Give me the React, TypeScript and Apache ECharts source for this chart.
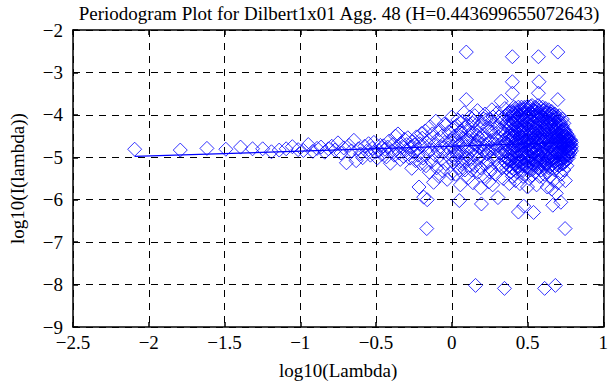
import React, { useEffect, useRef } from "react";
import * as echarts from "echarts";

const titleText = "Periodogram Plot for Dilbert1x01 Agg. 48 (H=0.443699655072643)";
const xAxisName = "log10(Lambda)";
const yAxisName = "log10(I(lambda))";

// fitted line end points
const fitLine: number[][] = [[-2.093, -4.98], [0.79, -4.65]];

// low frequencies (sparse part)
const lowFreq: number[][] = [
  [-2.093, -4.81], [-1.792, -4.83], [-1.616, -4.79], [-1.491, -4.81], [-1.394, -4.76],
  [-1.315, -4.8], [-1.248, -4.8], [-1.19, -4.87], [-1.139, -4.83], [-1.093, -4.8],
  [-1.052, -4.75], [-1.014, -4.82], [-0.979, -4.84], [-0.947, -4.7], [-0.917, -4.86],
  [-0.889, -4.79], [-0.863, -4.76], [-0.838, -4.88], [-0.814, -4.8], [-0.792, -4.74],
  [-0.771, -4.83], [-0.751, -4.66], [-0.732, -4.9], [-0.713, -4.78], [-0.695, -5.13],
  [-0.678, -4.72], [-0.662, -4.85], [-0.646, -4.6], [-0.631, -5.08], [-0.616, -4.8],
  [-0.602, -4.92], [-0.588, -5.01], [-0.575, -4.74], [-0.562, -4.86], [-0.549, -4.68],
  [-0.537, -4.95], [-0.525, -4.79], [-0.514, -4.65], [-0.503, -4.88], [-0.492, -5.02],
  [-0.481, -4.84], [-0.471, -4.72], [-0.461, -4.93], [-0.451, -4.73], [-0.441, -4.81],
  [-0.432, -4.99], [-0.423, -4.76], [-0.414, -4.62], [-0.405, -5.14], [-0.396, -4.85],
  [-0.388, -4.7], [-0.379, -4.95], [-0.371, -4.5], [-0.363, -4.8], [-0.355, -4.45],
  [-0.347, -4.9], [-0.34, -5.05], [-0.332, -4.66], [-0.325, -4.75], [-0.318, -4.98],
  [-0.311, -4.58], [-0.304, -4.84], [-0.297, -4.7], [-0.29, -4.54], [-0.283, -4.92],
  [-0.277, -5.02], [-0.27, -4.76], [-0.264, -5.26], [-0.258, -4.63], [-0.252, -4.88],
  [-0.245, -4.71], [-0.239, -5.08], [-0.233, -4.52], [-0.228, -4.82], [-0.222, -4.95],
  [-0.216, -5.7], [-0.211, -4.68], [-0.205, -5.15], [-0.2, -4.44],
];

// middle frequencies
const midFreq: number[][] = [
  [-0.195, -4.55], [-0.19, -5.02], [-0.185, -5.94], [-0.18, -4.72], [-0.175, -4.38],
  [-0.17, -5.2], [-0.165, -6.68], [-0.162, -6.0], [-0.158, -4.9], [-0.153, -4.6],
  [-0.148, -5.35], [-0.143, -4.28], [-0.138, -4.82], [-0.133, -5.1], [-0.128, -4.45],
  [-0.12, -5.59], [-0.115, -4.7], [-0.11, -4.95], [-0.105, -4.15], [-0.1, -5.25],
  [-0.095, -4.58], [-0.09, -4.85], [-0.085, -5.45], [-0.08, -4.35], [-0.075, -4.75],
  [-0.07, -5.05], [-0.065, -4.5], [-0.06, -5.32], [-0.055, -4.88], [-0.05, -4.22],
  [-0.045, -4.65], [-0.04, -5.15], [-0.036, -4.23], [-0.03, -5.52], [-0.025, -4.78],
  [-0.02, -4.4], [-0.015, -5.0], [-0.01, -4.6], [-0.005, -5.38], [0.0, -4.05],
  [0.005, -4.62], [0.01, -5.12], [0.015, -4.3], [0.02, -4.85], [0.025, -5.4],
  [0.03, -4.48], [0.035, -4.95], [0.04, -4.12], [0.045, -5.25], [0.05, -6.02],
  [0.052, -4.7], [0.057, -5.65], [0.062, -4.38], [0.067, -4.9], [0.072, -5.1],
  [0.077, -4.55], [0.082, -3.95], [0.087, -5.3], [0.092, -4.75], [0.096, -3.64],
  [0.096, -2.52], [0.1, -4.95], [0.105, -4.25], [0.11, -5.48], [0.115, -4.6],
  [0.12, -4.05], [0.125, -5.05], [0.13, -4.42], [0.135, -4.82], [0.14, -5.6],
  [0.145, -4.15], [0.15, -4.68], [0.155, -5.2], [0.157, -8.02], [0.16, -4.35],
  [0.165, -4.92], [0.17, -3.9], [0.175, -5.35], [0.18, -4.55], [0.185, -4.78],
  [0.19, -5.72], [0.196, -6.1], [0.2, -4.2], [0.205, -5.0], [0.21, -4.45],
  [0.215, -5.45], [0.22, -3.98], [0.225, -4.7], [0.23, -5.15], [0.235, -4.3],
  [0.24, -4.88], [0.245, -5.58], [0.25, -4.1], [0.255, -4.62], [0.26, -5.28],
  [0.265, -3.88], [0.27, -4.8], [0.27, -5.65], [0.275, -4.4], [0.28, -5.05],
  [0.285, -4.2], [0.29, -5.4], [0.295, -4.55], [0.3, -3.95], [0.305, -5.95],
  [0.31, -4.72], [0.315, -5.18], [0.32, -4.35], [0.326, -3.68], [0.33, -4.95],
  [0.335, -4.08], [0.34, -5.5], [0.345, -4.6], [0.348, -8.09], [0.35, -3.85],
  [0.355, -4.85], [0.36, -5.25], [0.365, -4.25], [0.37, -4.7], [0.375, -5.05],
  [0.38, -3.95], [0.38, -5.62], [0.385, -4.5], [0.39, -5.35], [0.395, -4.15],
  [0.008, -4.75], [0.018, -4.5], [0.028, -5.05], [0.038, -4.62], [0.048, -4.88],
  [0.058, -4.42], [0.068, -5.15], [0.078, -4.7], [0.088, -4.3], [0.098, -4.58],
  [0.108, -4.82], [0.118, -5.18], [0.128, -4.5], [0.138, -4.2], [0.148, -4.95],
  [0.158, -4.72], [0.168, -4.48], [0.178, -5.02], [0.188, -4.25], [0.198, -4.68],
  [0.208, -4.85], [0.218, -4.55], [0.228, -4.12], [0.238, -5.1], [0.248, -4.78],
  [0.258, -4.4], [0.268, -4.6], [0.278, -4.95], [0.288, -4.7], [0.298, -4.32],
  [0.308, -4.52], [0.318, -4.9], [0.328, -4.18], [0.338, -4.75], [0.348, -5.08],
  [0.012, -4.95], [0.032, -4.25], [0.052, -5.3], [0.072, -4.15], [0.092, -5.02],
  [0.112, -4.38], [0.132, -5.3], [0.152, -4.02], [0.172, -4.62], [0.192, -5.25],
  [0.212, -4.1], [0.232, -4.92], [0.252, -5.35], [0.272, -4.05], [0.292, -4.82],
  [0.312, -4.05], [0.332, -5.25], [0.342, -4.4],
];

// high frequencies (cloud)
const highFreq: number[][] = [
  [0.4, -2.63], [0.4, -3.22], [0.4, -3.49],
  [0.4, -4.62], [0.4, -3.92], [0.4, -5.1], [0.4, -4.35], [0.4, -5.45], [0.4, -4.8],
  [0.41, -4.2], [0.41, -4.95], [0.41, -3.82], [0.41, -5.28], [0.41, -4.5], [0.41, -4.05],
  [0.42, -4.75], [0.42, -4.02], [0.42, -5.15], [0.42, -4.4], [0.42, -3.85], [0.42, -5.55],
  [0.43, -4.3], [0.43, -4.88], [0.43, -4.58], [0.43, -5.02], [0.43, -3.95], [0.43, -5.35],
  [0.44, -4.1], [0.44, -4.7], [0.44, -5.22], [0.44, -3.82], [0.44, -4.45], [0.44, -6.29],
  [0.45, -4.85], [0.45, -4.25], [0.45, -3.9], [0.45, -5.08], [0.45, -4.55], [0.45, -5.62],
  [0.46, -4.4], [0.46, -5.3], [0.46, -4.0], [0.46, -4.72], [0.46, -3.82], [0.46, -4.95],
  [0.47, -4.65], [0.47, -4.15], [0.47, -5.12], [0.47, -4.38], [0.47, -3.88], [0.47, -5.45],
  [0.475, -6.15],
  [0.48, -4.5], [0.48, -3.95], [0.48, -4.9], [0.48, -5.2], [0.48, -4.25], [0.48, -3.82],
  [0.49, -4.78], [0.49, -4.05], [0.49, -5.38], [0.49, -4.6], [0.49, -4.3], [0.49, -5.0],
  [0.5, -4.2], [0.5, -4.95], [0.5, -3.85], [0.5, -4.48], [0.5, -5.25], [0.5, -3.8], [0.5, -5.7],
  [0.51, -4.7], [0.51, -4.35], [0.51, -5.1], [0.51, -3.98], [0.51, -5.5], [0.51, -4.55],
  [0.52, -4.12], [0.52, -4.82], [0.52, -3.8], [0.52, -5.3], [0.52, -4.45], [0.52, -4.98],
  [0.53, -4.6], [0.53, -4.0], [0.53, -5.05], [0.53, -4.28], [0.53, -3.78], [0.53, -5.42],
  [0.54, -4.4], [0.54, -4.9], [0.54, -3.9], [0.54, -5.18], [0.54, -4.65], [0.54, -6.3],
  [0.55, -4.75], [0.55, -4.15], [0.55, -3.82], [0.55, -5.0], [0.55, -4.5], [0.55, -5.35],
  [0.56, -4.3], [0.56, -5.15], [0.56, -3.85], [0.56, -4.85], [0.56, -4.05], [0.56, -4.62], [0.56, -5.65],
  [0.57, -4.55], [0.57, -3.95], [0.57, -5.25], [0.57, -4.2], [0.57, -4.95], [0.57, -3.78],
  [0.572, -2.63], [0.576, -3.22], [0.572, -3.49],
  [0.58, -4.7], [0.58, -4.1], [0.58, -5.05], [0.58, -3.82], [0.58, -4.4], [0.58, -5.45],
  [0.59, -4.25], [0.59, -4.88], [0.59, -3.92], [0.59, -5.3], [0.59, -4.58], [0.59, -4.0],
  [0.6, -4.65], [0.6, -4.12], [0.6, -5.1], [0.6, -3.82], [0.6, -4.45], [0.6, -4.92],
  [0.61, -4.35], [0.61, -5.22], [0.61, -3.88], [0.61, -4.78], [0.61, -4.08], [0.61, -5.4],
  [0.613, -8.09],
  [0.62, -4.55], [0.62, -4.0], [0.62, -4.95], [0.62, -5.15], [0.62, -4.28], [0.62, -3.85],
  [0.63, -4.8], [0.63, -4.18], [0.63, -3.95], [0.63, -5.05], [0.63, -4.48], [0.63, -5.35], [0.63, -5.7],
  [0.64, -4.38], [0.64, -4.9], [0.64, -4.05], [0.64, -5.25], [0.64, -3.88], [0.64, -4.65],
  [0.65, -4.6], [0.65, -4.22], [0.65, -5.0], [0.65, -3.98], [0.65, -5.45], [0.65, -4.75],
  [0.66, -4.45], [0.66, -4.95], [0.66, -4.1], [0.66, -5.18], [0.66, -3.92], [0.66, -4.7], [0.66, -5.75],
  [0.667, -6.13],
  [0.67, -4.7], [0.67, -4.25], [0.67, -5.08], [0.67, -4.0], [0.67, -4.52], [0.67, -5.55],
  [0.68, -4.35], [0.68, -4.85], [0.68, -4.12], [0.68, -5.3], [0.68, -4.6], [0.68, -3.98],
  [0.684, -8.02],
  [0.69, -4.58], [0.69, -4.2], [0.69, -5.0], [0.69, -4.4], [0.69, -4.9], [0.69, -5.25], [0.69, -5.85],
  [0.7, -2.52], [0.7, -3.64], [0.7, -4.3], [0.7, -4.75], [0.7, -4.05], [0.7, -5.12], [0.7, -4.55], [0.7, -5.6],
  [0.71, -4.45], [0.71, -4.88], [0.71, -4.15], [0.71, -5.2], [0.71, -4.62], [0.71, -4.02],
  [0.72, -6.06], [0.72, -4.38], [0.72, -4.95], [0.72, -4.2], [0.72, -5.05], [0.72, -4.7], [0.72, -5.4],
  [0.73, -4.55], [0.73, -4.28], [0.73, -4.85], [0.73, -5.15], [0.73, -4.42], [0.73, -4.1],
  [0.74, -4.65], [0.74, -4.35], [0.74, -5.0], [0.74, -4.5], [0.74, -5.3], [0.74, -4.2],
  [0.748, -6.68],
  [0.75, -4.48], [0.75, -4.8], [0.75, -4.62], [0.75, -5.1], [0.75, -4.38], [0.75, -5.55],
  [0.76, -4.7], [0.76, -4.45], [0.76, -4.95], [0.76, -4.58], [0.76, -5.2],
  [0.77, -4.6], [0.77, -4.85], [0.77, -4.5], [0.77, -5.02], [0.77, -4.72],
  [0.78, -4.68], [0.78, -4.9], [0.78, -4.58], [0.78, -4.8],
  [0.79, -4.75], [0.79, -4.65], [0.79, -4.85],
];

// dense core of the high-frequency cloud
const coreFreq: number[][] = [
  [0.355, -4.45], [0.355, -4.02], [0.355, -4.88], [0.355, -5.12], [0.355, -4.66],
  [0.365, -4.7], [0.365, -4.18], [0.365, -5.0], [0.365, -4.55], [0.365, -3.98],
  [0.375, -4.32], [0.375, -4.92], [0.375, -4.1], [0.375, -5.2], [0.375, -4.6],
  [0.385, -4.8], [0.385, -4.25], [0.385, -5.08], [0.385, -4.48], [0.385, -3.92],
  [0.395, -4.58], [0.395, -4.05], [0.395, -4.95], [0.395, -5.25], [0.395, -4.38],
  [0.405, -4.22], [0.405, -4.75], [0.405, -5.02], [0.405, -3.96], [0.405, -4.5],
  [0.415, -4.85], [0.415, -4.4], [0.415, -4.12], [0.415, -5.18], [0.415, -4.65],
  [0.425, -4.18], [0.425, -4.62], [0.425, -5.1], [0.425, -4.9], [0.425, -3.92],
  [0.435, -4.72], [0.435, -4.28], [0.435, -4.98], [0.435, -4.05], [0.435, -5.22],
  [0.445, -4.52], [0.445, -4.0], [0.445, -4.82], [0.445, -5.12], [0.445, -4.35],
  [0.455, -4.62], [0.455, -4.15], [0.455, -5.05], [0.455, -4.42], [0.455, -3.88],
  [0.465, -4.3], [0.465, -4.92], [0.465, -4.08], [0.465, -5.2], [0.465, -4.55],
  [0.475, -4.8], [0.475, -4.35], [0.475, -3.98], [0.475, -5.02], [0.475, -4.62],
  [0.485, -4.12], [0.485, -4.68], [0.485, -5.15], [0.485, -4.42], [0.485, -3.85],
  [0.495, -4.58], [0.495, -4.02], [0.495, -4.88], [0.495, -5.22], [0.495, -4.3],
  [0.505, -4.82], [0.505, -4.22], [0.505, -3.9], [0.505, -4.62], [0.505, -5.08],
  [0.515, -4.4], [0.515, -4.95], [0.515, -4.08], [0.515, -5.25], [0.515, -4.7],
  [0.525, -4.62], [0.525, -3.95], [0.525, -4.32], [0.525, -5.02], [0.525, -4.85],
  [0.535, -4.18], [0.535, -4.78], [0.535, -5.15], [0.535, -4.48], [0.535, -3.88],
  [0.545, -4.55], [0.545, -4.05], [0.545, -4.92], [0.545, -4.3], [0.545, -5.2],
  [0.555, -4.85], [0.555, -4.38], [0.555, -3.92], [0.555, -5.05], [0.555, -4.6],
  [0.565, -4.25], [0.565, -4.7], [0.565, -5.12], [0.565, -4.02], [0.565, -4.48],
  [0.575, -4.62], [0.575, -4.12], [0.575, -4.95], [0.575, -5.25], [0.575, -4.38],
  [0.585, -4.42], [0.585, -3.98], [0.585, -4.8], [0.585, -5.1], [0.585, -4.58],
  [0.595, -4.78], [0.595, -4.3], [0.595, -4.05], [0.595, -5.0], [0.595, -4.52],
  [0.605, -4.2], [0.605, -4.62], [0.605, -5.18], [0.605, -3.9], [0.605, -4.88],
  [0.615, -4.58], [0.615, -4.1], [0.615, -4.95], [0.615, -4.35], [0.615, -5.08],
  [0.625, -4.7], [0.625, -4.25], [0.625, -3.95], [0.625, -5.15], [0.625, -4.45],
  [0.635, -4.35], [0.635, -4.82], [0.635, -4.08], [0.635, -5.02], [0.635, -4.6],
  [0.645, -4.62], [0.645, -4.15], [0.645, -4.98], [0.645, -4.4], [0.645, -5.22],
  [0.655, -4.28], [0.655, -4.75], [0.655, -3.98], [0.655, -5.08], [0.655, -4.52],
  [0.665, -4.55], [0.665, -4.12], [0.665, -4.88], [0.665, -5.15], [0.665, -4.35],
  [0.675, -4.8], [0.675, -4.4], [0.675, -4.05], [0.675, -5.0], [0.675, -4.62],
  [0.685, -4.3], [0.685, -4.7], [0.685, -5.1], [0.685, -4.18], [0.685, -4.5],
  [0.695, -4.62], [0.695, -4.08], [0.695, -4.9], [0.695, -4.4], [0.695, -5.18],
  [0.705, -4.48], [0.705, -4.85], [0.705, -4.22], [0.705, -5.05], [0.705, -4.65],
  [0.715, -4.75], [0.715, -4.32], [0.715, -4.58], [0.715, -5.12], [0.715, -4.95],
  [0.725, -4.4], [0.725, -4.62], [0.725, -4.88], [0.725, -4.25], [0.725, -5.02],
  [0.735, -4.7], [0.735, -4.5], [0.735, -4.92], [0.735, -4.35], [0.735, -5.15],
  [0.745, -4.58], [0.745, -4.8], [0.745, -4.42], [0.745, -5.0], [0.745, -4.68],
  [0.755, -4.65], [0.755, -4.88], [0.755, -4.52], [0.755, -5.05], [0.755, -4.75],
  [0.765, -4.55], [0.765, -4.78], [0.765, -4.95], [0.765, -4.68],
  [0.775, -4.72], [0.775, -4.62], [0.775, -4.85], [0.775, -4.95],
  [0.785, -4.7], [0.785, -4.8], [0.785, -4.6],
];

const FONT = "'Liberation Serif', 'Times New Roman', serif";
const fmt = (v: number) => String(v).replace("-", "\u2212");

export default function App() {
  const ref = useRef<HTMLDivElement>(null);
  useEffect(() => {
    if (!ref.current) return;
    const chart = echarts.init(ref.current, undefined, { renderer: "svg" });
    const scatterStyle = {
      type: "scatter" as const,
      symbol: "diamond",
      symbolSize: 14,
      itemStyle: { color: "rgba(0,0,0,0)", borderColor: "#0000ff", borderWidth: 1 },
      emphasis: { disabled: true },
    };
    const axisCommon = {
      axisLine: { show: true, onZero: false, lineStyle: { color: "#000", width: 1.5 } },
      axisTick: { show: true, inside: true, length: 5, lineStyle: { color: "#000", width: 1.5 } },
    };
    const labelStyle = { formatter: fmt, fontFamily: FONT, fontSize: 19, color: "#000" };
    chart.setOption({
      animation: false,
      backgroundColor: "#fff",
      title: {
        text: titleText,
        left: 334,
        textAlign: "center",
        top: -1,
        textStyle: { fontFamily: FONT, fontSize: 19, fontWeight: "normal", color: "#000" },
      },
      grid: { left: 61, right: 2, top: 30, bottom: 55 },
      xAxis: [
        {
          type: "value", min: -2.5, max: 1, interval: 0.5,
          name: xAxisName, nameLocation: "middle", nameGap: 34,
          nameTextStyle: { fontFamily: FONT, fontSize: 19, color: "#000" },
          ...axisCommon,
          axisLabel: { ...labelStyle, margin: 6 },
          splitLine: { show: true, lineStyle: { color: "#000", type: [7, 6], width: 1 } },
        },
        {
          type: "value", position: "top", min: -2.5, max: 1, interval: 0.5,
          ...axisCommon,
          axisLabel: { show: false },
          splitLine: { show: false },
        },
      ],
      yAxis: [
        {
          type: "value", min: -9, max: -2, interval: 1,
          name: yAxisName, nameLocation: "middle", nameGap: 46,
          nameTextStyle: { fontFamily: FONT, fontSize: 19, color: "#000" },
          ...axisCommon,
          axisLabel: { ...labelStyle, margin: 10 },
          splitLine: { show: true, lineStyle: { color: "#000", type: [7, 6], width: 1 } },
        },
        {
          type: "value", position: "right", min: -9, max: -2, interval: 1,
          ...axisCommon,
          axisLabel: { show: false },
          splitLine: { show: false },
        },
      ],
      series: [
        { ...scatterStyle, data: lowFreq },
        { ...scatterStyle, data: midFreq },
        { ...scatterStyle, data: highFreq },
        { ...scatterStyle, data: coreFreq },
        {
          type: "line",
          data: fitLine,
          symbol: "none",
          lineStyle: { color: "#0000ff", width: 1.2 },
          emphasis: { disabled: true },
        },
      ],
    });
    return () => chart.dispose();
  }, []);
  return <div ref={ref} style={{ width: 611, height: 385, position: "absolute", left: 0, top: 0 }} />;
}
